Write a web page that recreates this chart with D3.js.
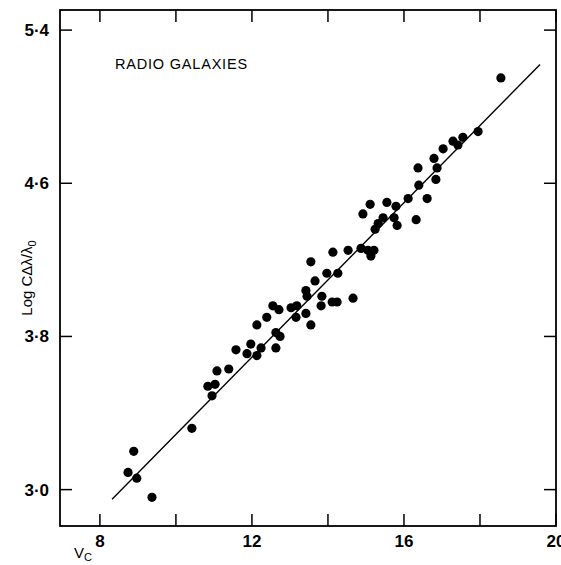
<!DOCTYPE html>
<html>
<head>
<meta charset="utf-8">
<script src="https://cdn.jsdelivr.net/npm/d3@7"></script>
<style>
  body { margin: 0; background: #fff; }
  svg { display: block; }
  .tick-label { font-family: "Liberation Sans Narrow", "Liberation Sans", Arial, sans-serif; font-weight: bold; font-size: 17px; }
</style>
</head>
<body>
<div id="chart"></div>
<script>
// V_c values of the radio galaxies
var vc = [8.89, 8.74, 8.97, 9.37, 10.42, 10.84, 10.95, 11.03, 11.08, 11.39,
  11.58, 11.87, 11.97, 12.13, 12.24, 12.13, 12.39, 12.55, 12.71, 12.63,
  12.74, 12.63, 13.03, 13.18, 13.16, 13.42, 13.55, 13.42, 13.45, 13.66,
  13.84, 13.82, 14.11, 14.24, 14.66, 13.55, 13.97, 14.26, 14.13, 14.53,
  14.87, 15.05, 15.21, 15.13, 14.92, 15.11, 15.24, 15.32, 15.45, 15.55,
  15.74, 15.79, 15.82, 16.32, 16.11, 16.61, 16.39, 16.84, 16.37, 16.87,
  16.79, 17.03, 17.29, 17.42, 17.55, 17.95, 18.55];
// Log C dl / l0
var logC = [3.20, 3.09, 3.06, 2.96, 3.32, 3.54, 3.49, 3.55, 3.62, 3.63,
  3.73, 3.71, 3.76, 3.70, 3.74, 3.86, 3.90, 3.96, 3.94, 3.82,
  3.80, 3.74, 3.95, 3.96, 3.90, 3.92, 3.86, 4.04, 4.01, 4.09,
  4.01, 3.96, 3.98, 3.98, 4.00, 4.19, 4.13, 4.13, 4.24, 4.25,
  4.26, 4.25, 4.25, 4.22, 4.44, 4.49, 4.36, 4.39, 4.42, 4.50,
  4.42, 4.48, 4.38, 4.41, 4.52, 4.52, 4.59, 4.62, 4.68, 4.68,
  4.73, 4.78, 4.82, 4.80, 4.84, 4.87, 5.15];
// fitted line end points
var fitX = [8.32, 19.58];
var fitY = [2.95, 5.22];

var xTicks = [8, 10, 12, 14, 16, 18, 20];
var xLabels = ["8", "", "12", "", "16", "", "20"];
var yTicks = [3.0, 3.8, 4.6, 5.4];
var yLabels = ["3·0", "3·8", "4·6", "5·4"];

var width = 561, height = 565;
var svg = d3.select("#chart").append("svg")
  .attr("width", width).attr("height", height);

var x = d3.scaleLinear().domain([6.95, 20]).range([60, 556]);
var y = d3.scaleLinear().domain([2.81, 5.505]).range([526, 10]);

// frame
svg.append("rect")
  .attr("x", x.range()[0]).attr("y", y.range()[1])
  .attr("width", x.range()[1] - x.range()[0])
  .attr("height", y.range()[0] - y.range()[1])
  .attr("fill", "none").attr("stroke", "#000").attr("stroke-width", 1.8);

// inward ticks on all four sides
xTicks.forEach(function (t) {
  svg.append("line").attr("x1", x(t)).attr("x2", x(t))
    .attr("y1", y.range()[0]).attr("y2", y.range()[0] - 12)
    .attr("stroke", "#000").attr("stroke-width", 1.5);
  svg.append("line").attr("x1", x(t)).attr("x2", x(t))
    .attr("y1", y.range()[1]).attr("y2", y.range()[1] + 12)
    .attr("stroke", "#000").attr("stroke-width", 1.5);
});
yTicks.forEach(function (t) {
  svg.append("line").attr("y1", y(t)).attr("y2", y(t))
    .attr("x1", x.range()[0]).attr("x2", x.range()[0] + 12)
    .attr("stroke", "#000").attr("stroke-width", 1.5);
  svg.append("line").attr("y1", y(t)).attr("y2", y(t))
    .attr("x1", x.range()[1]).attr("x2", x.range()[1] - 12)
    .attr("stroke", "#000").attr("stroke-width", 1.5);
});

// tick labels
svg.selectAll(".xl").data(xTicks).enter().append("text")
  .attr("class", "tick-label")
  .attr("x", function (d) { return x(d); })
  .attr("y", 547)
  .attr("text-anchor", "middle")
  .text(function (d, i) { return xLabels[i]; });

svg.selectAll(".yl").data(yTicks).enter().append("text")
  .attr("class", "tick-label")
  .attr("x", 49)
  .attr("y", function (d) { return y(d) + 6; })
  .attr("text-anchor", "end")
  .text(function (d, i) { return yLabels[i]; });

// axis titles
var xt = svg.append("text")
  .attr("x", 74).attr("y", 558)
  .attr("font-family", "Liberation Sans, Arial, sans-serif")
  .attr("font-size", 15);
xt.append("tspan").text("V");
xt.append("tspan").attr("font-size", 11).attr("dy", 3).text("C");

var yt = svg.append("text")
  .attr("transform", "translate(32,278) rotate(-90)")
  .attr("text-anchor", "middle")
  .attr("font-family", "Liberation Sans, Arial, sans-serif")
  .attr("font-size", 15);
yt.append("tspan").text("Log CΔλ/λ");
yt.append("tspan").attr("font-size", 11).attr("dy", 4).text("0");

svg.append("text")
  .attr("x", 115).attr("y", 69)
  .attr("font-family", "Liberation Sans, Arial, sans-serif")
  .attr("font-size", 14.5)
  .attr("letter-spacing", 0.8)
  .text("RADIO  GALAXIES");

// fitted line
svg.append("path")
  .datum(d3.zip(fitX, fitY))
  .attr("fill", "none").attr("stroke", "#000").attr("stroke-width", 1.4)
  .attr("d", d3.line().x(function (d) { return x(d[0]); }).y(function (d) { return y(d[1]); }));

// points
svg.selectAll(".pt").data(d3.zip(vc, logC)).enter().append("circle")
  .attr("cx", function (d) { return x(d[0]); })
  .attr("cy", function (d) { return y(d[1]); })
  .attr("r", 4.6)
  .attr("fill", "#000");
</script>
</body>
</html>
